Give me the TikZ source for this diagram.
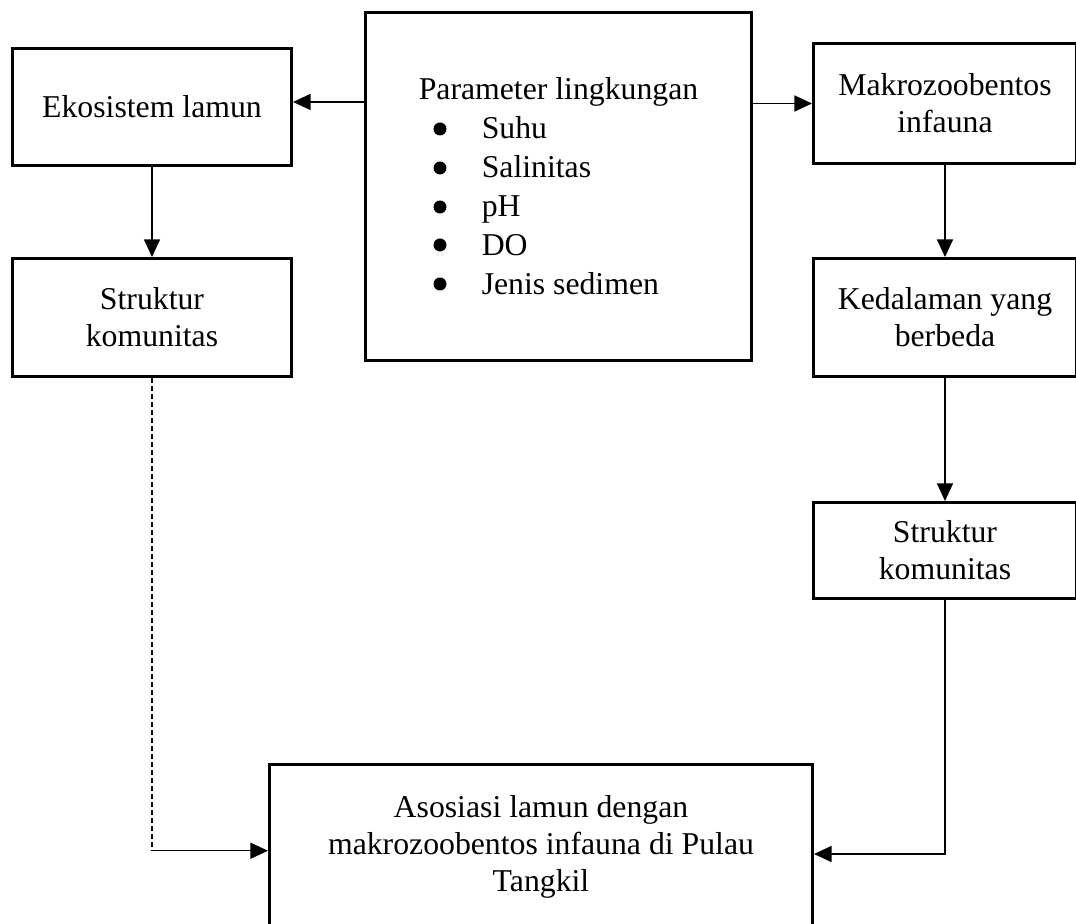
\documentclass[tikz,border=0pt]{standalone}
\usepackage{fontspec}
\setmainfont{Liberation Serif}
\usetikzlibrary{arrows.meta}

\newcommand{\paritem}[1]{\hspace*{25.2pt}#1}

\begin{document}
\begin{tikzpicture}[x=0.4pt, y=-0.4pt]
		\tikzset{box/.style={draw, line width=1.2pt, align=center, inner sep=0pt, font=\fontsize{12.7}{14.8}\selectfont}}
		\tikzset{edge/.style={->, > = {Triangle[length=7pt, width=6.4pt]}, line width=0.45pt}}
		\tikzset{weak/.style={line width=0.45pt, dash pattern=on 2pt off 1.2pt}}
		\useasboundingbox (0,0) rectangle (1076,924);
		%boxes
		\node[box, minimum width=111.6pt, minimum height=46.8pt] (eko) at (152, 107) {Ekosistem lamun};
		\node[box, minimum width=111.6pt, minimum height=47.2pt] (strukL) at (152, 317.5) {Struktur\\komunitas};
		\node[box, minimum width=154.4pt, minimum height=139.2pt, align=left, font=\fontsize{12.7}{15.6}\selectfont] (param) at (558.5, 186.5)
			{Parameter lingkungan\\ \paritem{Suhu}\\ \paritem{Salinitas}\\ \paritem{pH}\\ \paritem{DO}\\ \paritem{Jenis sedimen}};
		\node[box, minimum width=105.2pt, minimum height=48pt] (makro) at (945, 103.5) {Makrozoobentos\\infauna};
		\node[box, minimum width=105.2pt, minimum height=47.2pt] (kedal) at (945, 317.5) {Kedalaman yang\\berbeda};
		\node[box, minimum width=105.2pt, minimum height=38.4pt] (strukR) at (945, 550.5) {Struktur\\komunitas};
		\node[box, minimum width=217.2pt, minimum height=66pt] (asos) at (541, 847) {Asosiasi lamun dengan\\makrozoobentos infauna di Pulau\\Tangkil};
		%bullets
		\fill (440, 129) circle (2.6pt);
		\fill (440, 168) circle (2.6pt);
		\fill (440, 207) circle (2.6pt);
		\fill (440, 245) circle (2.6pt);
		\fill (440, 284) circle (2.6pt);
		%edges
		\draw[edge] ([yshift=2pt]param.west |- eko.east) -- ([yshift=2pt]eko.east);
		\draw[edge] (param.east |- makro.west) -- (makro.west);
		\draw[edge] (eko) -- (strukL);
		\draw[edge] (makro) -- (kedal);
		\draw[edge] (kedal) -- (strukR);
		\coordinate (bendL) at (strukL.south |- asos.west);
		\draw[weak] (strukL.south) -- ([yshift=-1.5pt]bendL);
		\draw[edge] ([yshift=-1.5pt]bendL) -- ([yshift=-1.5pt]asos.west);
		\draw[edge] (strukR.south) |- ([yshift=-2.8pt]asos.east);
\end{tikzpicture}
\end{document}
